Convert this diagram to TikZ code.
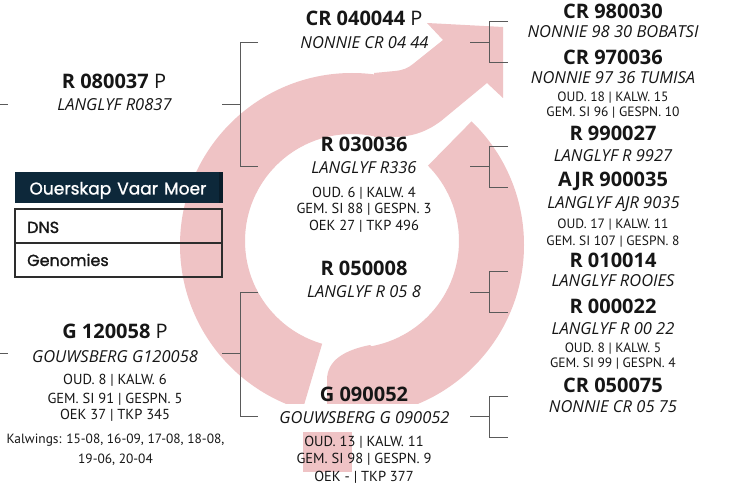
\documentclass[tikz,border=0pt]{standalone}
\usepackage{fontspec}
\setmainfont{Open Sans}
\newfontfamily\smallf{PT Sans}
\newfontfamily\legf{Poppins}[FakeBold=1.2]
\usetikzlibrary{calc}
\definecolor{pinkband}{RGB}{239,195,197}
\definecolor{navy}{RGB}{13,40,58}
\definecolor{linegray}{RGB}{90,90,90}
\definecolor{boxgray}{RGB}{45,45,45}
\definecolor{txt}{RGB}{22,22,22}
\begin{document}
\begin{tikzpicture}[x=1pt,y=-1pt,
  hd/.style={anchor=base,inner sep=0pt,text=txt,font=\fontsize{20}{24}\selectfont\bfseries},
  it/.style={anchor=base,inner sep=0pt,text=txt,font=\fontsize{16.5}{20}\selectfont\itshape},
  sm/.style={anchor=base,inner sep=0pt,text=txt,font=\smallf\fontsize{14.5}{17}\selectfont},
  smk/.style={anchor=base,inner sep=0pt,text=txt,font=\smallf\fontsize{13.4}{16}\selectfont},
  smr/.style={anchor=base,inner sep=0pt,text=txt,font=\smallf\fontsize{13.5}{15}\selectfont},
  legtxt/.style={anchor=base west,inner sep=0pt,text=txt,font=\legf\fontsize{16}{19}\selectfont},
  conn/.style={draw=linegray,line width=0.9pt}]

\useasboundingbox (0,0) rectangle (737,484);
\fill[white] (0,0) rectangle (737,484);

% ---- pink symbol ----
\coordinate (C) at (352,243);
\coordinate (Co) at (352,245);
\coordinate (Ci) at (352,241);
\begin{scope}
 \clip (C) -- ($(C)+(78:300pt)$) -- ($(C)+(130:300pt)$) -- ($(C)+(180:300pt)$) -- ($(C)+(225:300pt)$) -- ($(C)+(253.5:300pt)$) -- cycle;
 \fill[pinkband,even odd rule] (Co) circle[radius=172pt] (Ci) circle[radius=107pt];
\end{scope}
\begin{scope}
 \clip (C) -- ($(C)+(45.5:300pt)$) -- ($(C)+(0:300pt)$) -- ($(C)+(-40:300pt)$) -- ($(C)+(-80:300pt)$) -- cycle;
 \fill[pinkband,even odd rule] (Co) circle[radius=172pt] (Ci) circle[radius=107pt];
\end{scope}
\fill[pinkband] (374,137) -- (374,73) -- (395,71) .. controls (404,70) and (408,68) .. (413,64) -- (443,40) -- (427,23) -- (503,27) -- (503,98) -- (487,83) -- (441,121) .. controls (425,133) and (410,137) .. (392,137) -- cycle;
\fill[pinkband] (370,345) .. controls (345,350) and (327,360) .. (327,380) -- (327,404) -- (400,404) -- (400,368) -- cycle;
\fill[pinkband] (303,432) rectangle (352,472);
\fill[white] (275,404) rectangle (460,431);

% ---- legend ----
\fill[navy] (15,172) rectangle (223,203);
\fill[navy!70!black] (219,172) rectangle (223,203);
\node[anchor=base,inner sep=0pt,text=white,font=\legf\fontsize{17}{20}\selectfont] (leg) at (118,194.5) {Ouerskap\hspace{6pt}Vaar\hspace{6pt}Moer};
\draw[line width=2.6pt, draw=boxgray] (15,209) rectangle (222,277);
\draw[line width=1.4pt, draw=boxgray] (15,243) -- (222,243);
\node[legtxt] (dns) at (27,233) {DNS};
\node[legtxt] (gen) at (27,266) {Genomies};

% ---- connectors ----
\coordinate (s0) at (0,104); \coordinate (s1) at (8,104);
\coordinate (d0) at (0,353); \coordinate (d1) at (8,353);
\draw[conn] (s0) -- (s1);
\draw[conn] (d0) -- (d1);
% bracket A
\coordinate (aL) at (222,104); \coordinate (aM) at (240,104);
\coordinate (aT) at (240,42); \coordinate (aB) at (240,166);
\coordinate (aTe) at (258,42); \coordinate (aBe) at (258,166);
\draw[conn] (aL) -- (aM);
\draw[conn] (aTe) -- (aT) -- (aB) -- (aBe);
% bracket B
\coordinate (bL) at (222,353); \coordinate (bM) at (240,353);
\coordinate (bT) at (240,292); \coordinate (bB) at (240,416);
\coordinate (bTe) at (258,292); \coordinate (bBe) at (258,416);
\draw[conn] (bL) -- (bM);
\draw[conn] (bTe) -- (bT) -- (bB) -- (bBe);
% bracket C
\coordinate (cL) at (470,42); \coordinate (cM) at (489,42);
\coordinate (cT) at (489,21); \coordinate (cB) at (489,62);
\coordinate (cTe) at (508,21); \coordinate (cBe) at (508,62);
\draw[conn] (cL) -- (cM);
\draw[conn] (cTe) -- (cT) -- (cB) -- (cBe);
% bracket D
\coordinate (eL) at (470,166); \coordinate (eM) at (489,166);
\coordinate (eT) at (489,146); \coordinate (eB) at (489,187);
\coordinate (eTe) at (508,146); \coordinate (eBe) at (508,187);
\draw[conn] (eL) -- (eM);
\draw[conn] (eTe) -- (eT) -- (eB) -- (eBe);
% bracket E
\coordinate (fL) at (470,292); \coordinate (fM) at (489,292);
\coordinate (fT) at (489,271); \coordinate (fB) at (489,312);
\coordinate (fTe) at (508,271); \coordinate (fBe) at (508,312);
\draw[conn] (fL) -- (fM);
\draw[conn] (fTe) -- (fT) -- (fB) -- (fBe);
% bracket F
\coordinate (gL) at (470,416); \coordinate (gM) at (489,416);
\coordinate (gT) at (489,396); \coordinate (gB) at (489,437);
\coordinate (gTe) at (508,396); \coordinate (gBe) at (508,437);
\draw[conn] (gL) -- (gM);
\draw[conn] (gTe) -- (gT) -- (gB) -- (gBe);

% ---- left column ----
\node[hd] (sire) at (114,89) {R 080037 {\mdseries P}};
\node[it] (sireN) at (114.5,111) {LANGLYF R0837};
\node[hd] (dam) at (115,338) {G 120058 {\mdseries P}};
\node[it] (damN) at (115,362) {GOUWSBERG G120058};
\node[sm] (damA) at (115,384) {OUD. 8 | KALW. 6};
\node[sm] (damB) at (115,403) {GEM. SI 91 | GESPN. 5};
\node[sm] (damC) at (115,419) {OEK 37 | TKP 345};
\node[smk] (damK1) at (115.5,443) {Kalwings: 15-08, 16-09, 17-08, 18-08,};
\node[smk] (damK2) at (115.5,463) {19-06, 20-04};

% ---- middle column ----
\node[hd] (ss) at (364,26) {CR 040044 {\mdseries P}};
\node[it] (ssN) at (364.5,49) {NONNIE CR 04 44};
\node[hd] (sd) at (364,152) {R 030036};
\node[it] (sdN) at (364,174) {LANGLYF R336};
\node[sm] (sdA) at (364,197) {OUD. 6 | KALW. 4};
\node[sm] (sdB) at (364,213.5) {GEM. SI 88 | GESPN. 3};
\node[sm] (sdC) at (364,231) {OEK 27 | TKP 496};
\node[hd] (ds) at (364,276) {R 050008};
\node[it] (dsN) at (364,298) {LANGLYF R 05 8};
\node[hd] (dd) at (364,401) {G 090052};
\node[it] (ddN) at (364.5,423) {GOUWSBERG G 090052};
\node[sm] (ddA) at (364,446) {OUD. 13 | KALW. 11};
\node[sm] (ddB) at (364,463) {GEM. SI 98 | GESPN. 9};
\node[sm] (ddC) at (364,481) {OEK - | TKP 377};

% ---- right column ----
\node[hd] (r1) at (613,18.5) {CR 980030};
\node[it] (r1N) at (613,38) {NONNIE 98 30 BOBATSI};
\node[hd] (r2) at (613,65) {CR 970036};
\node[it] (r2N) at (613,84) {NONNIE 97 36 TUMISA};
\node[smr] (r2A) at (613,102) {OUD. 18 | KALW. 15};
\node[smr] (r2B) at (613,117) {GEM. SI 96 | GESPN. 10};
\node[hd] (r3) at (613,141) {R 990027};
\node[it] (r3N) at (613,162) {LANGLYF R 9927};
\node[hd] (r4) at (613,186) {AJR 900035};
\node[it] (r4N) at (613.5,209) {LANGLYF AJR 9035};
\node[smr] (r4A) at (613,229) {OUD. 17 | KALW. 11};
\node[smr] (r4B) at (613,245) {GEM. SI 107 | GESPN. 8};
\node[hd] (r5) at (613,267) {R 010014};
\node[it] (r5N) at (613,287) {LANGLYF ROOIES};
\node[hd] (r6) at (613,313) {R 000022};
\node[it] (r6N) at (613,334) {LANGLYF R 00 22};
\node[smr] (r6A) at (613,352) {OUD. 8 | KALW. 5};
\node[smr] (r6B) at (613,367) {GEM. SI 99 | GESPN. 4};
\node[hd] (r7) at (613,392) {CR 050075};
\node[it] (r7N) at (613,412) {NONNIE CR 05 75};
\end{tikzpicture}
\end{document}
